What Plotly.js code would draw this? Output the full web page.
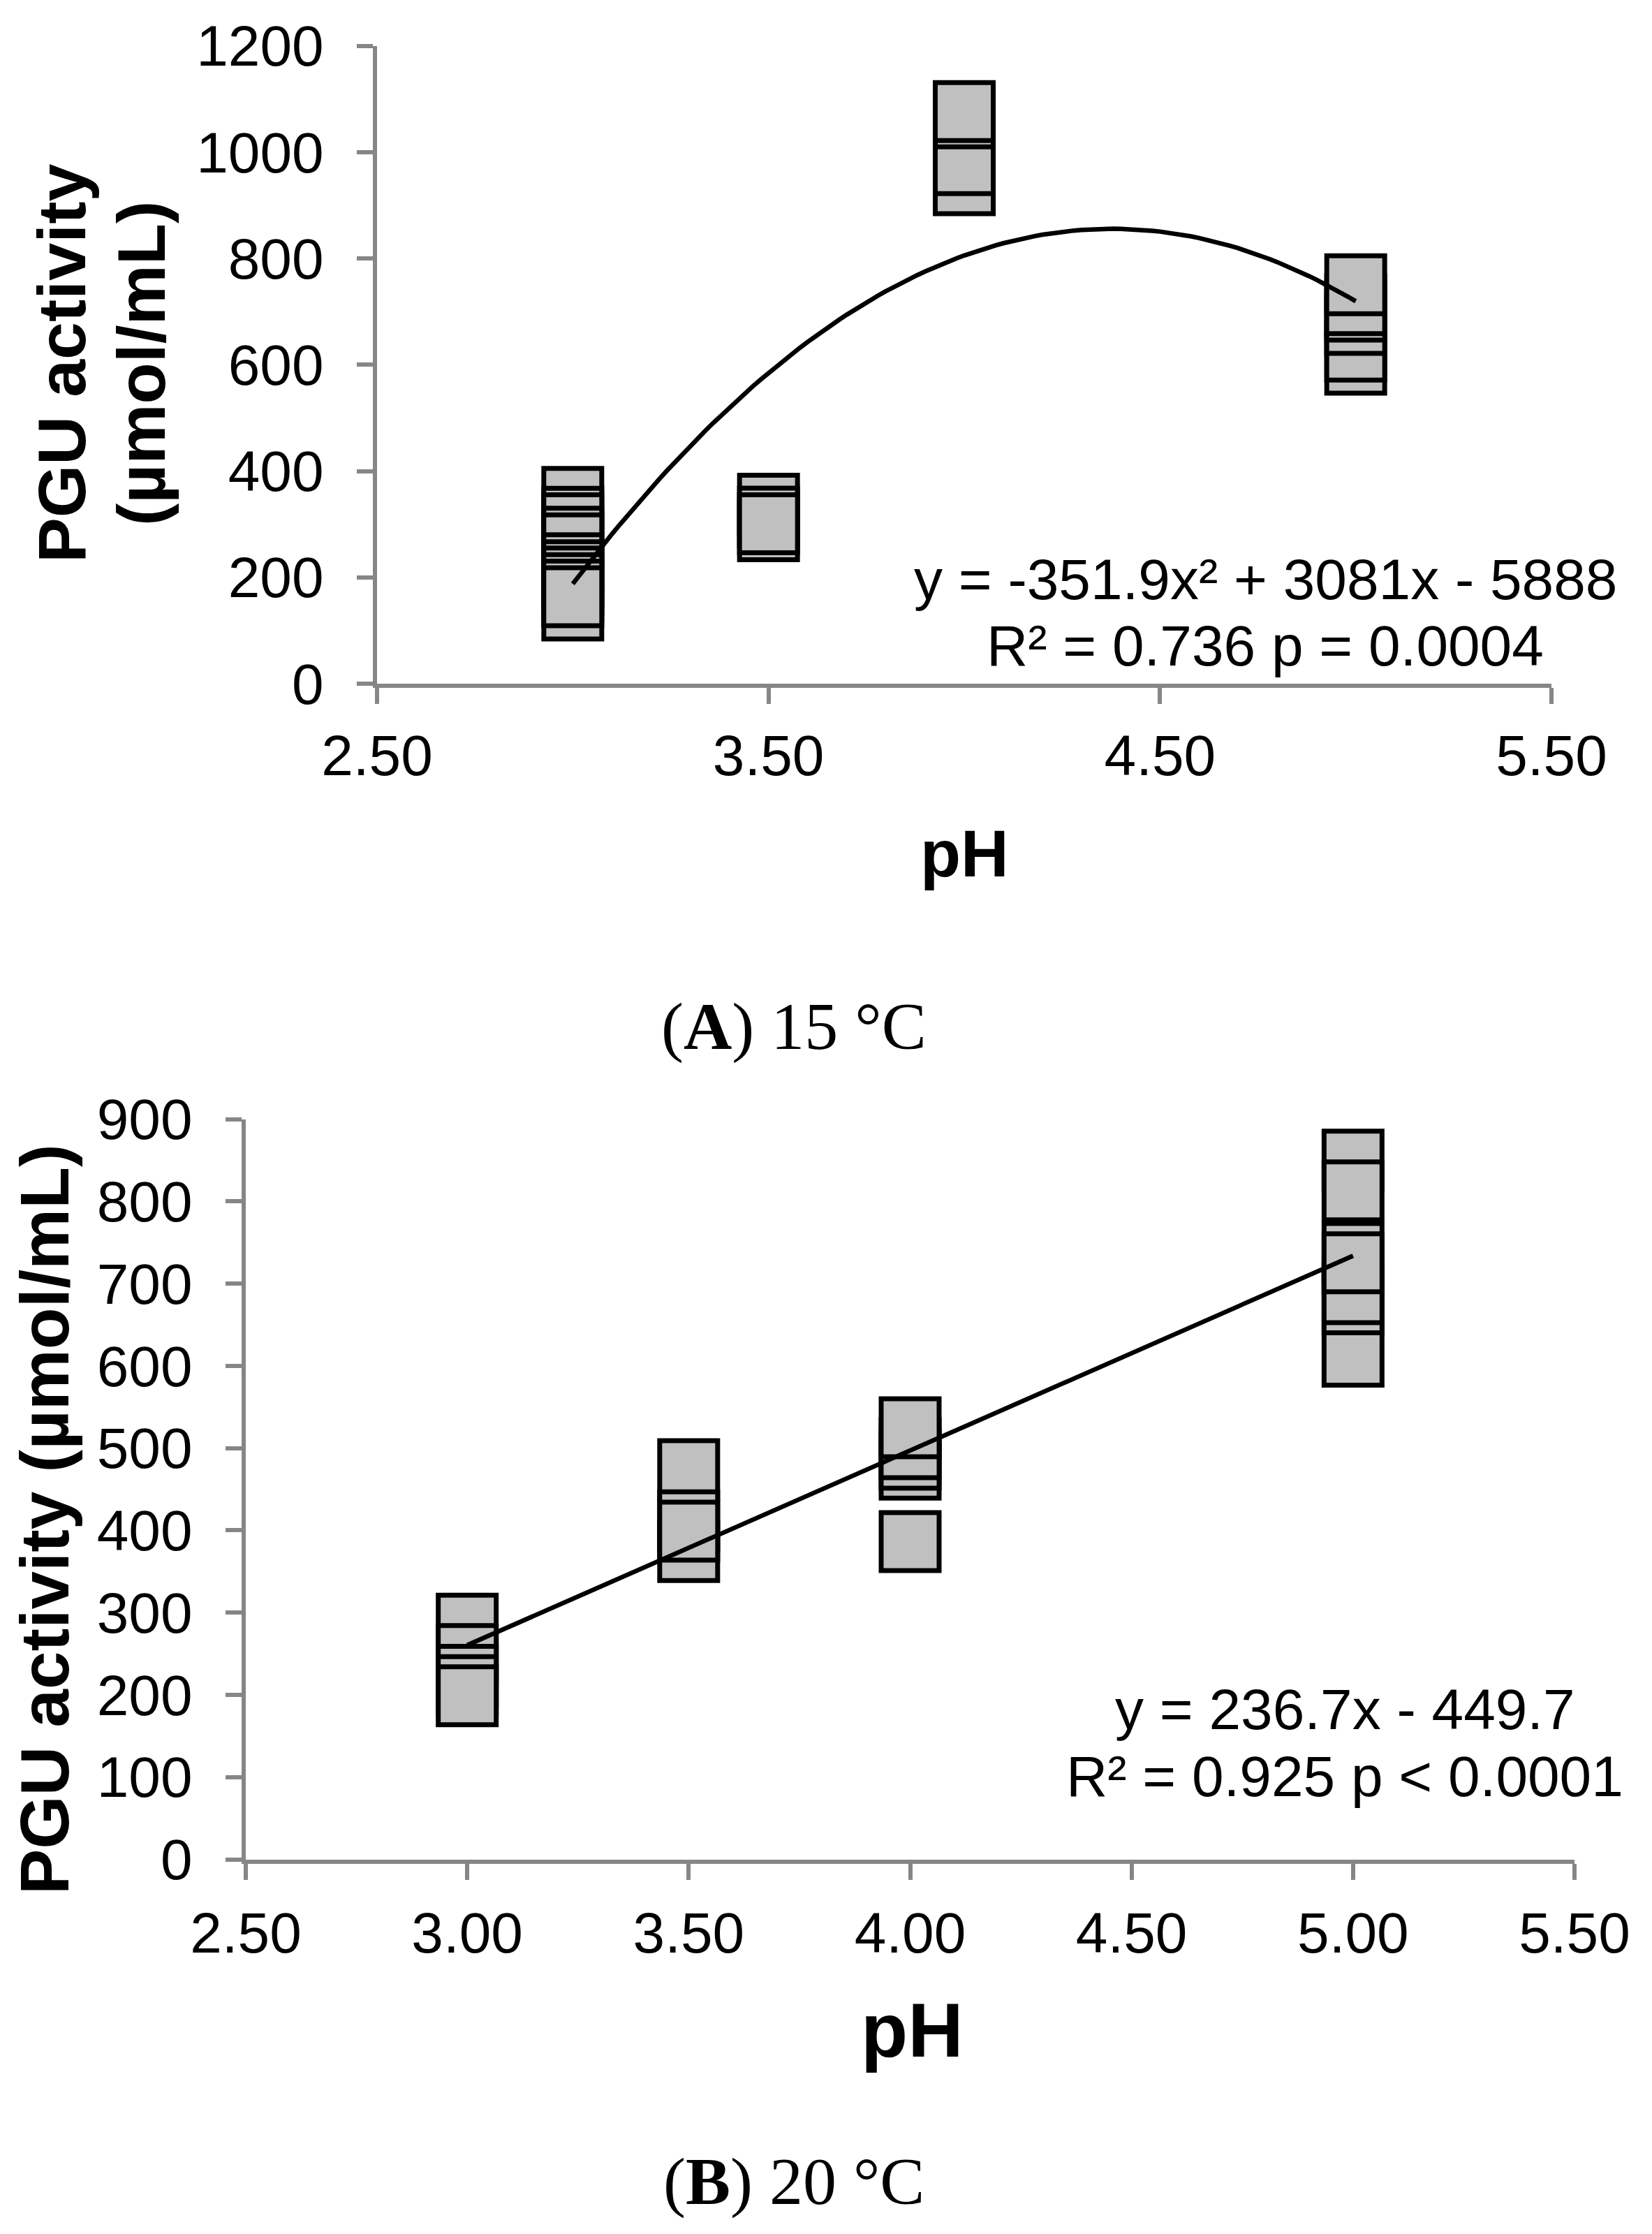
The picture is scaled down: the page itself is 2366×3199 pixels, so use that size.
<!DOCTYPE html>
<html>
<head>
<meta charset="utf-8">
<script src="https://cdn.plot.ly/plotly-3.0.1.min.js"></script>
<style>
  html, body { margin: 0; padding: 0; background: #fff; }
  #chart { width: 2366px; height: 3199px; }
</style>
</head>
<body>
<div id="chart"></div>
<script>
/* PGU activity vs pH at two temperatures, replicate points as stacked square markers */

const W = 2366, H = 3199;

// (A) 15 °C: replicate values per pH, listed in drawing order
const A_PH = [3.0, 3.5, 4.0, 5.0];
const A_PH30 = [350.6, 313.0, 300.7, 275.7, 263.1, 225.8, 212.6, 200.8, 188.2, 175.9, 138.6, 163.6];
const A_PH35 = [337.5, 287.7, 313.2, 300.9];
const A_PH40 = [938.6, 976.6, 1064.4, 1076.2];
const A_PH50 = [600.9, 625.7, 675.8, 701.0, 713.2, 750.6];
const A_FIT = [-351.9, 3081, -5888];          // y = a x² + b x + c
const A_EQ = ['y = -351.9x² + 3081x - 5888', 'R² = 0.736 p = 0.0004'];

// (B) 20 °C
const B_PH = [3.0, 3.5, 4.0, 5.0];
const B_PH30 = [285.9, 249.0, 223.8, 211.2, 198.9];
const B_PH35 = [473.9, 374.2, 411.6, 399.2];
const B_PH40 = [474.4, 486.6, 499.3, 524.7, 386.4];
const B_PH50 = [850.3, 812.8, 737.9, 611.9, 675.4, 687.8, 725.3];
const B_FIT = [236.7, -449.7];                // y = m x + k
const B_EQ = ['y = 236.7x - 449.7', 'R² = 0.925 p < 0.0001'];

const X_TICKS_A = [2.5, 3.5, 4.5, 5.5];
const X_TICKS_B = [2.5, 3.0, 3.5, 4.0, 4.5, 5.0, 5.5];

// helpers: page pixels -> paper fractions
const px = v => v / W;
const py = v => 1 - v / H;

function flatten(phs, groups) {
    const xs = [], ys = [];
    groups.forEach((g, i) => g.forEach(v => { xs.push(phs[i]); ys.push(v); }));
    return { xs, ys };
}

const ptsA = flatten(A_PH, [A_PH30, A_PH35, A_PH40, A_PH50]);
const ptsB = flatten(B_PH, [B_PH30, B_PH35, B_PH40, B_PH50]);

// trend lines from the equations printed on the chart
const fitAx = [], fitAy = [];
for (let i = 0; i <= 100; i++) {
    const x = 3 + i * 0.02;
    fitAx.push(x);
    fitAy.push(A_FIT[0] * x * x + A_FIT[1] * x + A_FIT[2]);
}
const fitBx = [3, 5];
const fitBy = fitBx.map(x => B_FIT[0] * x + B_FIT[1]);

const MARKER = {
    symbol: 'square',
    size: 83,
    color: '#c0c0c0',
    line: { color: '#000000', width: 7 },
};
const TREND = { color: '#000000', width: 6.5 };

const data = [
    { x: ptsA.xs, y: ptsA.ys, type: 'scatter', mode: 'markers', marker: MARKER, xaxis: 'x', yaxis: 'y', cliponaxis: false },
    { x: fitAx, y: fitAy, type: 'scatter', mode: 'lines', line: TREND, xaxis: 'x', yaxis: 'y' },
    { x: ptsB.xs, y: ptsB.ys, type: 'scatter', mode: 'markers', marker: MARKER, xaxis: 'x2', yaxis: 'y2', cliponaxis: false },
    { x: fitBx, y: fitBy, type: 'scatter', mode: 'lines', line: TREND, xaxis: 'x2', yaxis: 'y2' },
];

const SANS = 'Liberation Sans, Arial, sans-serif';
const SERIF = 'Liberation Serif, Times New Roman, serif';
const AXIS_GREY = '#868686';

const axisBase = {
    showline: true,
    linecolor: AXIS_GREY,
    linewidth: 6,
    ticks: 'outside',
    ticklen: 23,
    tickwidth: 6,
    tickcolor: AXIS_GREY,
    showgrid: false,
    zeroline: false,
    fixedrange: true,
    tickfont: { family: SANS, size: 82, color: '#000' },
};

const ann = (x, y, text, size, opts = {}) => Object.assign({
    xref: 'paper', yref: 'paper', x: px(x), y: py(y),
    xanchor: 'center', yanchor: 'middle', showarrow: false,
    text: text, font: { family: SANS, size: size, color: '#000' },
}, opts);

const layout = {
    width: W,
    height: H,
    margin: { l: 0, r: 0, t: 0, b: 0 },
    paper_bgcolor: '#ffffff',
    plot_bgcolor: 'rgba(0,0,0,0)',
    showlegend: false,
    xaxis: {
        ...axisBase, anchor: 'y', domain: [px(540), px(2222)],
        range: [2.5, 5.5], tickvals: X_TICKS_A, tickformat: '.2f', ticklabelstandoff: 4,
    },
    yaxis: {
        ...axisBase, anchor: 'x', domain: [py(979), py(65.6)],
        range: [0, 1200], dtick: 200, ticklabelstandoff: 31,
    },
    xaxis2: {
        ...axisBase, anchor: 'y2', domain: [px(352), px(2255)],
        range: [2.5, 5.5], tickvals: X_TICKS_B, tickformat: '.2f', ticklabelstandoff: 6,
    },
    yaxis2: {
        ...axisBase, anchor: 'x2', domain: [py(2662.5), py(1602.6)],
        range: [0, 900], dtick: 100, ticklabelstandoff: 31,
    },
    annotations: [
        // panel A
        ann(88, 521, '<b>PGU activity</b>', 97, { textangle: -90 }),
        ann(202, 521, '<b>(µmol/mL)</b>', 97, { textangle: -90 }),
        ann(1381, 1222, '<b>pH</b>', 95),
        ann(1812, 829, A_EQ[0], 82),
        ann(1812, 924, A_EQ[1], 82),
        ann(1137, 1470, '(<b>A</b>) 15 °C', 96, { font: { family: SERIF, size: 96, color: '#000' } }),
        // panel B
        ann(64, 2176, '<b>PGU activity (µmol/mL)</b>', 98, { textangle: -90 }),
        ann(1306, 2906, '<b>pH</b>', 110),
        ann(1926, 2447, B_EQ[0], 82),
        ann(1926, 2543, B_EQ[1], 82),
        ann(1137, 3123, '(<b>B</b>) 20 °C', 96, { font: { family: SERIF, size: 96, color: '#000' } }),
    ],
};

Plotly.newPlot('chart', data, layout, { staticPlot: true, displayModeBar: false });
</script>
</body>
</html>
